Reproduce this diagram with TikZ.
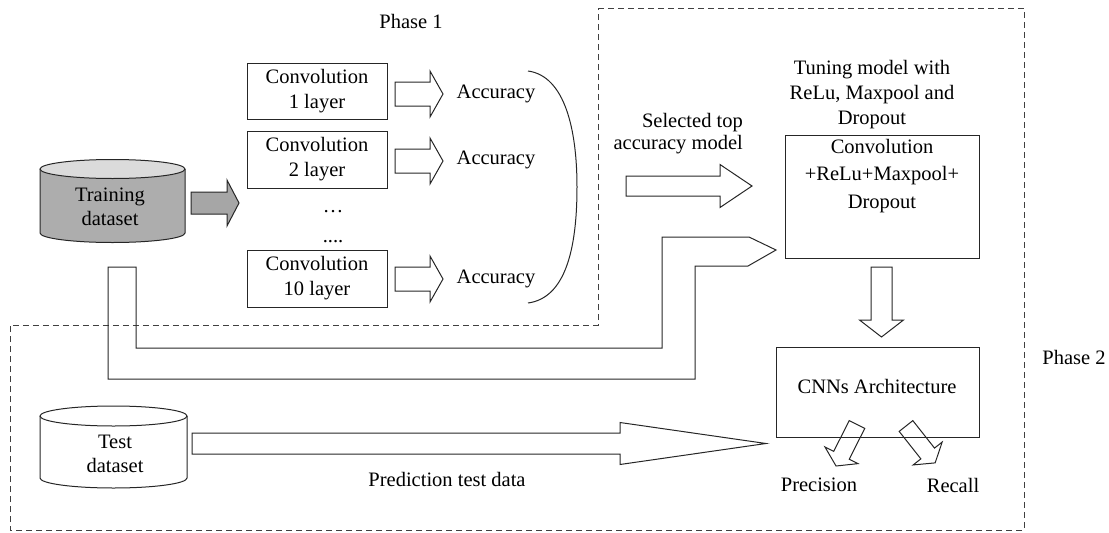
\documentclass[tikz,border=0pt]{standalone}
\usepackage{fontspec}
\setmainfont{Liberation Serif}
\newcommand{\blockarrow}[7][]{%
  \begin{scope}[shift={(#2)},rotate=#3]
    \draw[#1] (0,-#5) -- ({#4-#7},-#5) -- ({#4-#7},-#6) -- (#4,0) -- ({#4-#7},#6) -- ({#4-#7},#5) -- (0,#5) -- cycle;
  \end{scope}}
\tikzset{
  box/.style={draw=black!85, line width=1pt, inner sep=0pt, align=center},
  txt/.style={inner sep=0pt, align=center},
  harrow/.style={draw=black!85, line width=1pt},
  garrow/.style={harrow, fill=black!35},
  dashline/.style={draw=black!75, line width=0.9pt, dash pattern=on 6pt off 4pt},
  cyl/.style={draw=black!85, line width=1pt},
}
\begin{document}
\begin{tikzpicture}[x=1pt, y=-1pt, font=\fontsize{20.5}{25}\selectfont, line join=miter]
\useasboundingbox (0,0) rectangle (1109,533);

% phase 2 dashed region
\draw[dashline] (598,8) -- (1024,8) -- (1024,530) -- (10,530) -- (10,325) -- (598,325) -- cycle;
\node[txt] (ph1) at (411,21) {Phase 1};
\node[txt] (ph2) at (1074,357) {Phase 2};

% training dataset cylinder
\draw[cyl, fill=black!32] (40,169) -- (40,233) arc[start angle=180, end angle=0, x radius=72.5, y radius=9.5] -- (185,169);
\draw[cyl, fill=black!14] (112.5,169) ellipse[x radius=72.5, y radius=9.5];
\node[txt, font=\fontsize{20.5}{24}\selectfont] (train) at (110,207) {Training\\dataset};

% gray arrow
\blockarrow[garrow]{191,203}{0}{48}{11}{23}{12}

% convolution boxes
\node[box, minimum width=140, minimum height=56] (c1) at (317,91) {Convolution\\1 layer};
\node[box, minimum width=140, minimum height=57] (c2) at (317,159.5) {Convolution\\2 layer};
\node[box, minimum width=140, minimum height=57] (c10) at (317,278.5) {Convolution\\10 layer};
\node[txt] (d1) at (333,212) {\dots};
\node[txt] (d2) at (333,242) {....};

\blockarrow[harrow]{395,94}{0}{48}{12}{23}{13}
\blockarrow[harrow]{395,161}{0}{48}{12}{23}{13}
\blockarrow[harrow]{395,279}{0}{48}{12}{23}{13}

\node[txt] (a1) at (496,94) {Accuracy};
\node[txt] (a2) at (496,160) {Accuracy};
\node[txt] (a10) at (496,279) {Accuracy};

% bracket
\coordinate (bt) at (528,71);
\coordinate (bb) at (528,303);
\draw[harrow] (bt) .. controls (565,76) and (577,130) .. (577,187) .. controls (577,250) and (565,298) .. (bb);

% selected top accuracy model
\node[txt, anchor=east, align=right, font=\fontsize{20.5}{22}\selectfont] (sel) at (743,134) {Selected top\\accuracy model};
\blockarrow[harrow]{626,186}{0}{126}{10}{21.5}{32}

% tuning
\node[txt] (tun) at (872,95) {Tuning model with\\ReLu, Maxpool and\\Dropout};
\node[box, minimum width=194, minimum height=123] (cb) at (882,196.5) {};
\node[txt, font=\fontsize{20.5}{27.5}\selectfont] (cbt) at (882,176) {Convolution\\+ReLu+Maxpool+\\Dropout};

% bent arrow from training dataset
\draw[harrow] (108,267) -- (136,267) -- (136,348) -- (662,348) -- (662,237) -- (749,237) -- (776,250) -- (748,266) -- (695,266) -- (695,379) -- (108,379) -- cycle;

% down arrow
\blockarrow[harrow]{881.5,267}{-90}{70}{10.5}{22}{17}

% CNN box
\node[box, minimum width=203, minimum height=90] (cnn) at (877.5,392) {};
\node[txt] (cnnt) at (877,386) {CNNs Architecture};

% precision / recall arrows
\blockarrow[harrow]{857,424.5}{-116.8}{46.5}{8.7}{18.5}{12}
\blockarrow[harrow]{906,426}{-51.7}{47}{8.7}{18.5}{12}
\node[txt] (prec) at (819,485) {Precision};
\node[txt] (rec) at (953,485) {Recall};

% test dataset cylinder
\draw[cyl, fill=white] (40,416) -- (40,478) arc[start angle=180, end angle=0, x radius=73.5, y radius=10] -- (187,416);
\draw[cyl, fill=white] (113.5,416) ellipse[x radius=73.5, y radius=10];
\node[txt, font=\fontsize{20.5}{24}\selectfont] (test) at (115,454) {Test\\dataset};

% prediction arrow
\blockarrow[harrow]{192,443.5}{0}{574}{10.5}{21}{146}
\node[txt] (pred) at (447,479) {Prediction test data};
\end{tikzpicture}
\end{document}
